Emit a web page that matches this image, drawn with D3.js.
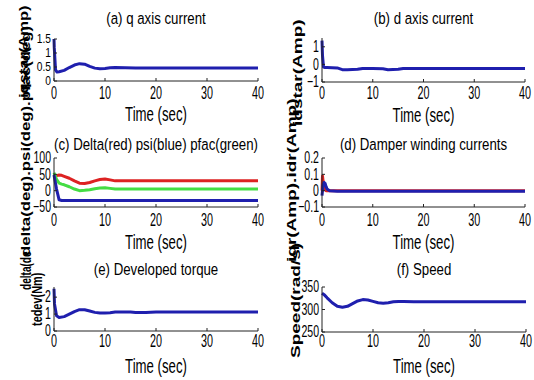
<!DOCTYPE html>
<html>
<head>
<meta charset="utf-8">
<script src="https://cdn.jsdelivr.net/npm/d3@7"></script>
<style>
  body { margin: 0; background: #fff; }
  svg { display: block; }
  text { font-family: "Liberation Sans", Arial, sans-serif; fill: #000; }
</style>
</head>
<body>
<svg id="chart" width="534" height="380"></svg>
<script>
// ---- data ----
var xTicks = [0, 10, 20, 30, 40];

// (a) q axis current
var iqT = [0, 0.05, 0.3, 0.6, 1, 2, 3, 4, 5, 6, 7, 8, 9, 10, 11, 12, 14, 16, 18, 20, 25, 30, 40];
var iqV = [1.5, 1.2, 0.4, 0.32, 0.33, 0.38, 0.48, 0.57, 0.62, 0.6, 0.52, 0.46, 0.44, 0.45, 0.47, 0.48, 0.47, 0.46, 0.46, 0.46, 0.46, 0.46, 0.46];
var iqTicks = [0, 0.5, 1, 1.5];

// (b) d axis current
var idT = [0, 0.1, 0.3, 0.6, 1, 3, 4, 5, 7, 8, 10, 12, 13, 15, 16, 20, 40];
var idV = [1.35, 0.5, -0.15, -0.18, -0.18, -0.2, -0.3, -0.3, -0.28, -0.23, -0.23, -0.25, -0.3, -0.28, -0.23, -0.23, -0.23];
var idTicks = [-1, 0, 1];

// (c) delta / psi / pfac
var angT = [0, 0.5, 1, 1.5, 2, 3, 4, 5, 6, 7, 8, 9, 10, 11, 12, 14, 16, 20, 25, 30, 40];
var deltaV = [42, 46, 48, 47, 44, 38, 30, 23, 22, 25, 30, 34, 36, 33, 30, 30, 30, 30, 30, 30, 30];
var pfacV = [55, 35, 23, 20, 18, 12, 5, 0, 1, 3, 6, 8, 9, 7, 5, 5, 5, 5, 5, 5, 5];
var psiV = [48, 5, -28, -30, -30, -30, -30, -30, -30, -30, -30, -30, -30, -30, -30, -30, -30, -30, -30, -30, -30];
var angTicks = [-50, 0, 50, 100];

// (d) damper winding currents
var dampT = [0, 0.1, 0.2, 0.4, 0.6, 0.8, 1, 1.5, 3, 40];
var iqrV = [0, 0.09, 0.06, 0.03, 0.01, 0, 0, 0, 0, 0];
var idrV = [-0.03, 0.0, 0.035, 0.05, 0.045, 0.025, 0.01, 0.0, -0.003, -0.003];
var dampTicks = [-0.1, 0, 0.1, 0.2];

// (e) developed torque
var teT = [0, 0.1, 0.5, 1, 2, 3, 4, 5, 6, 7, 8, 9, 10, 11, 12, 13, 14, 15, 16, 18, 20, 40];
var teV = [2.5, 1.6, 0.9, 0.8, 0.85, 1.0, 1.15, 1.26, 1.26, 1.18, 1.1, 1.06, 1.06, 1.08, 1.12, 1.13, 1.13, 1.12, 1.1, 1.1, 1.12, 1.12];
var teTicks = [0, 1, 2];

// (f) speed
var spT = [0, 0.5, 1, 2, 3, 4, 5, 6, 7, 8, 9, 10, 11, 12, 13, 14, 15, 16, 18, 20, 25, 40];
var spV = [336, 332, 326, 315, 307, 305, 307, 313, 319, 322, 321, 318, 315, 314, 315, 317, 318, 318, 317, 317, 317, 317];
var spTicks = [250, 300, 350];

var BLUE = "#1f1fae", RED = "#dd2222", GREEN = "#44dd44";

// ---- layout (pixels) ----
var panels = [
    {x0: 54, x1: 258, yTop: 39, yBot: 81, ydom: [0, 1.5], yticks: iqTicks, fmt: d3.format(".1~f"), ytSize: 12, ytSx: 0.85,
     title: "(a) q axis current", titleY: 24, tickY: 99, labY: 121,
     series: [{t: iqT, v: iqV, c: BLUE}]},
    {x0: 322, x1: 525, yTop: 38, yBot: 82, ydom: [-1, 1.5], yticks: idTicks, fmt: d3.format("d"),
     title: "(b) d axis current", titleY: 24, tickY: 99, labY: 122},
    {x0: 54, x1: 258, yTop: 158, yBot: 207, ydom: [-50, 100], yticks: angTicks, fmt: d3.format("d"),
     title: "(c) Delta(red) psi(blue) pfac(green)", titleY: 150, tickY: 226, labY: 249},
    {x0: 322, x1: 525, yTop: 158, yBot: 207, ydom: [-0.1, 0.2], yticks: dampTicks, fmt: d3.format(".1~f"),
     title: "(d) Damper winding currents", titleY: 150, tickY: 226, labY: 249},
    {x0: 54, x1: 258, yTop: 287, yBot: 331, ydom: [0, 2.6], yticks: teTicks, fmt: d3.format("d"),
     title: "(e) Developed torque", titleY: 275, tickY: 347, labY: 373},
    {x0: 322, x1: 526, yTop: 287, yBot: 332, ydom: [250, 350], yticks: spTicks, fmt: d3.format("d"),
     title: "(f) Speed", titleY: 275, tickY: 347, labY: 373}
];
panels[1].series = [{t: idT, v: idV, c: BLUE}];
panels[2].series = [{t: angT, v: deltaV, c: RED}, {t: angT, v: pfacV, c: GREEN}, {t: angT, v: psiV, c: BLUE}];
panels[3].series = [{t: dampT, v: iqrV, c: RED}, {t: dampT, v: idrV, c: BLUE}];
panels[4].series = [{t: teT, v: teV, c: BLUE}];
panels[5].series = [{t: spT, v: spV, c: BLUE}];

// rotated y labels, they overlap like in the original figure
var ylabels = [
    {s: "iqstar(Amp)", x: 28, y: 98, size: 16.5, sx: 1, sy: 0.75},
    {s: "delta(deg).psi(deg).pfac(deg)", x: 30, y: 256, size: 16.8, sx: 1, sy: 0.75},
    {s: "delta(de", x: 31, y: 290, size: 14, sx: 0.72, sy: 1},
    {s: "tedev(Nm)", x: 42, y: 326, size: 14, sx: 0.78, sy: 1},
    {s: "idstar(Amp)", x: 302, y: 126, size: 19, sx: 1, sy: 0.72},
    {s: "iqr(Amp).idr(Amp)", x: 296, y: 262, size: 19, sx: 1, sy: 0.72},
    {s: "Speed(rad/s)", x: 300, y: 358, size: 19, sx: 1, sy: 0.72}
];

var svg = d3.select("#chart");

function label(g, x, y, s, size, sx, anchor){
    return g.append("text")
        .attr("transform", "translate(" + x + "," + y + ") scale(" + sx + ",1)")
        .attr("text-anchor", anchor || "middle")
        .attr("font-size", size)
        .text(s);
}

panels.forEach(function(p){
    var g = svg.append("g");
    var x = d3.scaleLinear().domain([0, 40]).range([p.x0, p.x1]);
    var y = d3.scaleLinear().domain(p.ydom).range([p.yBot, p.yTop]);

    var line = d3.line()
        .x(function(d){ return x(d[0]); })
        .y(function(d){ return y(d[1]); });

    p.series.forEach(function(s){
        g.append("path")
            .datum(d3.zip(s.t, s.v))
            .attr("d", line)
            .attr("fill", "none")
            .attr("stroke", s.c)
            .attr("stroke-width", 3)
            .attr("stroke-linejoin", "round");
    });

    // axes lines (left + bottom only), ticks pointing inward
    g.append("line").attr("x1", p.x0).attr("x2", p.x0).attr("y1", p.yTop).attr("y2", p.yBot)
        .attr("stroke", "#222").attr("stroke-width", 1);
    g.append("line").attr("x1", p.x0).attr("x2", p.x1).attr("y1", p.yBot).attr("y2", p.yBot)
        .attr("stroke", "#222").attr("stroke-width", 1);

    xTicks.forEach(function(t){
        g.append("line").attr("x1", x(t)).attr("x2", x(t)).attr("y1", p.yBot).attr("y2", p.yBot - 3)
            .attr("stroke", "#222");
        label(g, x(t), p.tickY, t, 18, 0.6);
    });
    var ytSize = p.ytSize || 16, ytSx = p.ytSx || 0.66;
    p.yticks.forEach(function(t){
        g.append("line").attr("x1", p.x0).attr("x2", p.x0 + 3).attr("y1", y(t)).attr("y2", y(t))
            .attr("stroke", "#222");
        label(g, p.x0 - 3, y(t) + ytSize * 0.33, p.fmt(t), ytSize, ytSx, "end");
    });

    label(g, (p.x0 + p.x1) / 2, p.titleY, p.title, 17, 0.78);
    label(g, (p.x0 + p.x1) / 2, p.labY, "Time (sec)", 20, 0.66);
});

ylabels.forEach(function(l){
    svg.append("text")
        .attr("transform", "translate(" + l.x + "," + l.y + ") rotate(-90) scale(" + l.sx + "," + l.sy + ")")
        .attr("text-anchor", "start")
        .attr("font-size", l.size)
        .attr("font-weight", "bold")
        .text(l.s);
});
</script>
</body>
</html>
